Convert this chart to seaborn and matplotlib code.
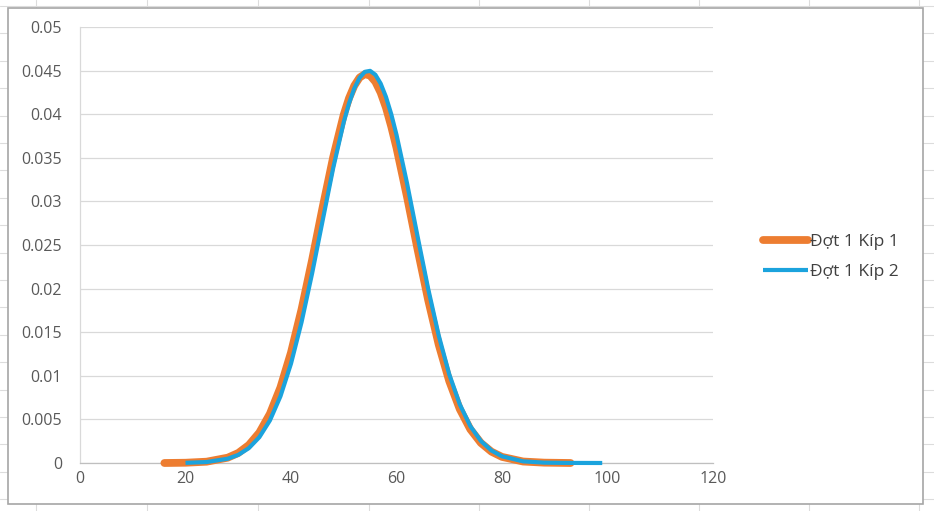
import numpy as np
import pandas as pd
import matplotlib
matplotlib.use("Agg")
import matplotlib.pyplot as plt
from matplotlib.patches import Rectangle
from matplotlib.lines import Line2D
import seaborn as sns

# Values (Excel smooth scatter lines)
x_kip1 = [16, 20, 24, 28, 30, 32, 34, 36, 38, 40, 42, 44, 46, 48, 50, 51, 52, 53, 54, 55,
          56, 57, 58, 59, 60, 62, 64, 66, 68, 70, 72, 74, 76, 78, 80, 84, 88, 93]
y_kip1 = [0.0, 0.00003, 0.00015, 0.00061, 0.00115, 0.00206, 0.00349, 0.00564, 0.00867,
          0.01267, 0.01762, 0.02328, 0.02932, 0.03508, 0.03995, 0.04184, 0.04327, 0.0442,
          0.0446, 0.04442, 0.04371, 0.04247, 0.04076, 0.0386, 0.03615, 0.03051, 0.02449,
          0.0187, 0.01358, 0.00939, 0.00617, 0.00386, 0.0023, 0.0013, 0.0007, 0.00017,
          0.00004, 0.0]

x_kip2 = [20, 24, 28, 30, 32, 34, 36, 38, 40, 42, 44, 46, 48, 50, 51, 52, 53, 54, 55, 56,
          57, 58, 59, 60, 62, 64, 66, 68, 70, 72, 74, 76, 78, 80, 84, 88, 92, 99]
y_kip2 = [0.00002, 0.00011, 0.00049, 0.00093, 0.0017, 0.00296, 0.00488, 0.00765, 0.0114,
          0.01615, 0.02174, 0.02781, 0.03383, 0.0391, 0.04125, 0.04296, 0.04418, 0.04486,
          0.04497, 0.04452, 0.04351, 0.04199, 0.04001, 0.03764, 0.03207, 0.02597, 0.01999,
          0.01463, 0.01017, 0.00672, 0.00422, 0.00252, 0.00143, 0.00077, 0.00019, 0.00004,
          0.00001, 0.0]

series_names = ["Đợt 1 Kíp 1", "Đợt 1 Kíp 2"]
x_ticks = [0, 20, 40, 60, 80, 100, 120]
y_ticks = [0, 0.005, 0.01, 0.015, 0.02, 0.025, 0.03, 0.035, 0.04, 0.045, 0.05]
y_ticklabels = ["0", "0.005", "0.01", "0.015", "0.02", "0.025", "0.03", "0.035", "0.04", "0.045", "0.05"]

sns.set_style("white")
plt.rcParams['font.family'] = ['Open Sans', 'DejaVu Sans']

W, H = 934, 511
fig = plt.figure(figsize=(W / 100, H / 100), dpi=100)

# spreadsheet cells behind the chart
for xc in [36, 147, 258, 369, 479, 589, 699, 809, 919]:
    fig.add_artist(Line2D([xc / W, xc / W], [0, 1], transform=fig.transFigure,
                          color="#dcdcdc", lw=0.8, zorder=-3))
for yr in np.arange(6, H, 27.4):
    fig.add_artist(Line2D([0, 1], [1 - yr / H, 1 - yr / H], transform=fig.transFigure,
                          color="#dcdcdc", lw=0.8, zorder=-3))
# chart area
fig.add_artist(Rectangle((8 / W, 1 - 504 / H), (923 - 8) / W, (504 - 8) / H,
                         transform=fig.transFigure, facecolor="white",
                         edgecolor="#a6a6a6", lw=1.2, zorder=-2))

ax = fig.add_axes([80 / W, 48 / H, (713 - 80) / W, (463 - 27) / H])
ax.set_facecolor("none")

df1 = pd.DataFrame({"x": x_kip1, "y": y_kip1})
df2 = pd.DataFrame({"x": x_kip2, "y": y_kip2})
sns.lineplot(data=df1, x="x", y="y", ax=ax, color="#ED7D31", lw=5.6,
             label=series_names[0], clip_on=False, solid_capstyle="round",
             solid_joinstyle="round", zorder=3)
sns.lineplot(data=df2, x="x", y="y", ax=ax, color="#1BA3DD", lw=3.0,
             label=series_names[1], clip_on=False, solid_capstyle="butt",
             solid_joinstyle="round", zorder=4)

ax.set_xlim(0, 120)
ax.set_ylim(0, 0.05)
ax.set_xticks(x_ticks)
ax.set_xticklabels([str(t) for t in x_ticks])
ax.set_yticks(y_ticks)
ax.set_yticklabels(y_ticklabels)
ax.set_xlabel("")
ax.set_ylabel("")
ax.tick_params(axis="y", length=0, pad=13, labelsize=11.5, labelcolor="#595959")
ax.tick_params(axis="x", length=0, pad=6, labelsize=11.5, labelcolor="#595959")
ax.yaxis.grid(True, color="#d9d9d9", lw=0.9)
ax.xaxis.grid(False)
for s in ["top", "right"]:
    ax.spines[s].set_visible(False)
ax.spines["left"].set_color("#d9d9d9")
ax.spines["left"].set_linewidth(0.9)
ax.spines["bottom"].set_color("#bfbfbf")
ax.spines["bottom"].set_linewidth(0.9)

leg = ax.legend(loc="center left", bbox_to_anchor=(763 / W, 1 - 257 / H),
                bbox_transform=fig.transFigure, frameon=False, fontsize=12.5,
                handlelength=2.6, handletextpad=0.1, labelspacing=0.75,
                borderpad=0, borderaxespad=0)
for t in leg.get_texts():
    t.set_color("#404040")

fig.savefig("out.png", dpi=100)
